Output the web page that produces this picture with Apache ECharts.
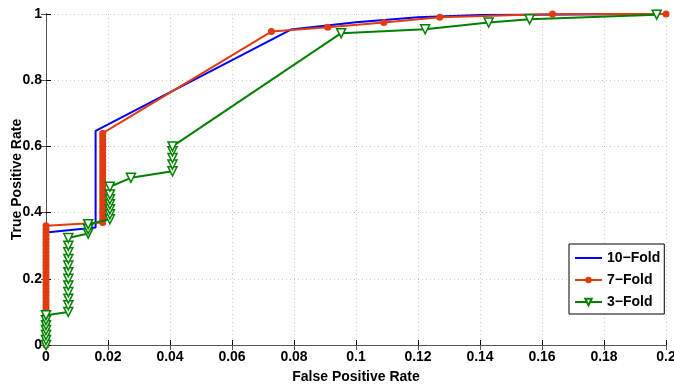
<!DOCTYPE html>
<html>
<head>
<meta charset="utf-8">
<script src="https://cdn.jsdelivr.net/npm/echarts@6/dist/echarts.min.js"></script>
<style>
html,body{margin:0;padding:0;background:#fff;}
#roc{width:674px;height:388px;}
</style>
</head>
<body>
<div id="roc"></div>
<script>
var seriesNames=['10\u2212Fold','7\u2212Fold','3\u2212Fold'];

var fold10=[[0,0],[0,0.34],[0.016,0.355],[0.016,0.647],[0.079,0.953],[0.1,0.975],[0.12,0.99],[0.14,0.997],[0.2,1]];

var fold7=[[0,0],[0,0.01],[0,0.02],[0,0.03],[0,0.04],[0,0.05],[0,0.06],[0,0.07],[0,0.08],[0,0.09],
    [0,0.1],[0,0.11],[0,0.12],[0,0.13],[0,0.14],[0,0.15],[0,0.16],[0,0.17],[0,0.18],[0,0.19],
    [0,0.2],[0,0.21],[0,0.22],[0,0.23],[0,0.24],[0,0.25],[0,0.26],[0,0.27],[0,0.28],[0,0.29],
    [0,0.3],[0,0.31],[0,0.32],[0,0.33],[0,0.34],[0,0.35],[0,0.36],
    [0.0183,0.37],[0.0183,0.38],[0.0183,0.39],[0.0183,0.4],[0.0183,0.41],[0.0183,0.42],[0.0183,0.43],
    [0.0183,0.44],[0.0183,0.45],[0.0183,0.46],[0.0183,0.47],[0.0183,0.48],[0.0183,0.49],[0.0183,0.5],
    [0.0183,0.51],[0.0183,0.52],[0.0183,0.53],[0.0183,0.54],[0.0183,0.55],[0.0183,0.56],[0.0183,0.57],
    [0.0183,0.58],[0.0183,0.59],[0.0183,0.6],[0.0183,0.61],[0.0183,0.62],[0.0183,0.63],[0.0183,0.64],
    [0.0727,0.947],[0.0909,0.96],[0.109,0.974],[0.127,0.99],[0.1634,1],[0.2,1]];

var fold3=[[0,0],[0,0.015],[0,0.03],[0,0.045],[0,0.06],[0,0.075],[0,0.09],
    [0.0072,0.1],[0.0072,0.12],[0.0072,0.14],[0.0072,0.16],[0.0072,0.18],[0.0072,0.2],
    [0.0072,0.22],[0.0072,0.24],[0.0072,0.26],[0.0072,0.28],[0.0072,0.3],[0.0072,0.323],
    [0.0136,0.337],[0.0136,0.35],[0.0136,0.365],
    [0.0206,0.38],[0.0206,0.395],[0.0206,0.41],[0.0206,0.425],[0.0206,0.44],[0.0206,0.455],[0.0206,0.478],
    [0.0274,0.505],
    [0.0408,0.525],[0.0408,0.545],[0.0408,0.565],[0.0408,0.585],[0.0408,0.6],
    [0.0952,0.942],[0.1223,0.954],[0.1428,0.974],[0.156,0.984],[0.197,0.998]];

var xTicks={min:0,max:0.2,step:0.02};
var yTicks={min:0,max:1,step:0.2};

var chart=echarts.init(document.getElementById('roc'));
var font='"Liberation Sans",Arial,sans-serif';

function trim(v){ return String(parseFloat(v.toFixed(2))); }

var gridLine={show:true,lineStyle:{color:'#c8c8c8',type:[1,3],width:1}};
var axisBlack={lineStyle:{color:'#000',width:1}};

option={
    animation:false,
    grid:{left:46,right:8,top:14,bottom:43,outerBoundsMode:'none',containLabel:false},
    legend:{
        orient:'vertical',
        left:569,
        top:244,
        padding:[7,4,5,5],
        itemGap:8,
        itemWidth:27,
        itemHeight:8,
        backgroundColor:'#fff',
        borderColor:'#000',
        borderWidth:1,
        textStyle:{fontFamily:font,fontWeight:'bold',fontSize:14,color:'#000'},
        data:[
            {name:seriesNames[0],itemStyle:{opacity:0}},
            {name:seriesNames[1]},
            {name:seriesNames[2],symbolRotate:180}
        ]
    },
    xAxis:[{
        type:'value',
        min:xTicks.min,max:xTicks.max,interval:xTicks.step,
        name:'False Positive Rate',
        nameLocation:'middle',
        nameGap:25,
        nameMoveOverlap:false,
        nameTextStyle:{fontFamily:font,fontWeight:'bold',fontSize:14,color:'#000'},
        axisLine:axisBlack,
        axisTick:{inside:true,length:5,lineStyle:{color:'#000'}},
        axisLabel:{fontFamily:font,fontWeight:'bold',fontSize:14,color:'#000',margin:5,formatter:trim},
        splitLine:gridLine
    },{
        type:'value',position:'top',
        min:xTicks.min,max:xTicks.max,interval:xTicks.step,
        axisLine:{show:true,lineStyle:{color:'#555'}},
        axisTick:{inside:true,length:5,lineStyle:{color:'#555'}},
        axisLabel:{show:false},
        splitLine:{show:false}
    }],
    yAxis:[{
        type:'value',
        min:yTicks.min,max:yTicks.max,interval:yTicks.step,
        name:'True Positive Rate',
        nameLocation:'middle',
        nameGap:22,
        nameMoveOverlap:false,
        nameTextStyle:{fontFamily:font,fontWeight:'bold',fontSize:14,color:'#000'},
        axisLine:{show:true,lineStyle:{color:'#000'}},
        axisTick:{show:true,inside:true,length:5,lineStyle:{color:'#000'}},
        axisLabel:{fontFamily:font,fontWeight:'bold',fontSize:14,color:'#000',margin:4,formatter:trim},
        splitLine:gridLine
    },{
        type:'value',position:'right',
        min:yTicks.min,max:yTicks.max,interval:yTicks.step,
        axisLine:{show:true,lineStyle:{color:'#555'}},
        axisTick:{show:true,inside:true,length:5,lineStyle:{color:'#555'}},
        axisLabel:{show:false},
        splitLine:{show:false}
    }],
    series:[
        {
            name:seriesNames[0],type:'line',data:fold10,
            symbol:'none',
            lineStyle:{color:'#0000ff',width:2},
            itemStyle:{color:'#0000ff'},
            z:2
        },
        {
            name:seriesNames[1],type:'line',data:fold7,
            symbol:'circle',symbolSize:7,showAllSymbol:true,
            lineStyle:{color:'#e03c10',width:2},
            itemStyle:{color:'#e03c10'},
            z:3
        },
        {
            name:seriesNames[2],type:'line',data:fold3,
            symbol:'triangle',symbolRotate:180,symbolSize:9,showAllSymbol:true,
            lineStyle:{color:'#008000',width:2},
            itemStyle:{color:'#ffffff',borderColor:'#008000',borderWidth:1.5},
            z:4
        }
    ]
};
chart.setOption(option);
</script>
</body>
</html>
